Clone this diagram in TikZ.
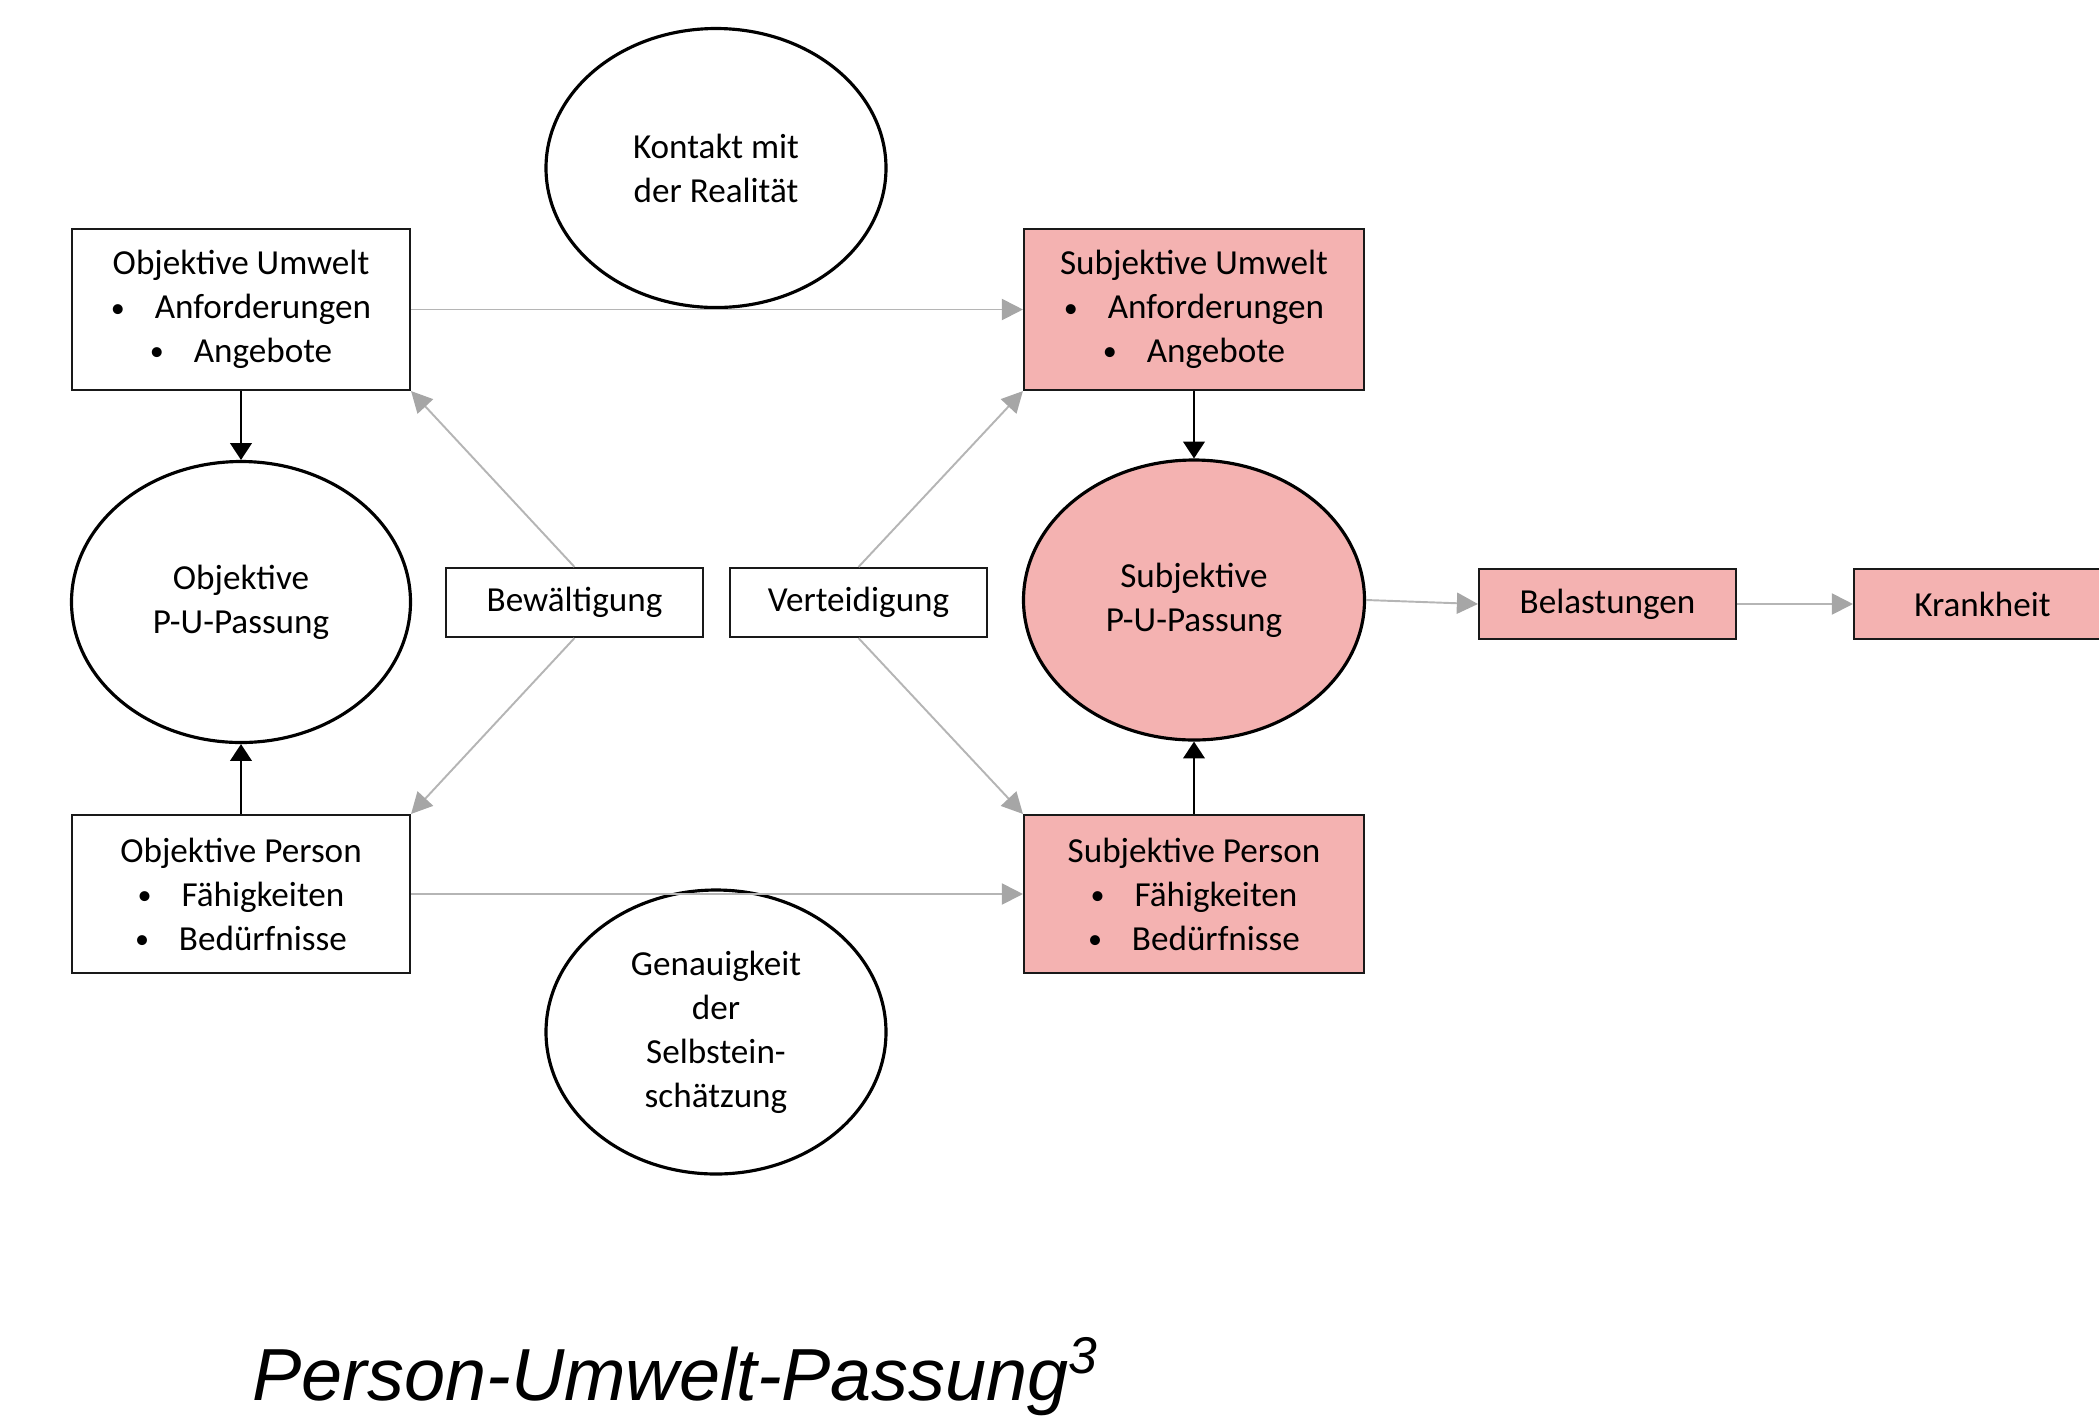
\documentclass[tikz,border=0pt]{standalone}
\usepackage{fontspec}
\usepackage{graphicx}
\setmainfont{Carlito}
\newfontfamily\titlefont{Liberation Sans}
\usetikzlibrary{arrows.meta,shapes.geometric}
\definecolor{pinkfill}{HTML}{F4B2B1}
\definecolor{linegray}{HTML}{B5B5B5}
\definecolor{tipgray}{HTML}{A6A6A6}
\tikzset{
  box/.style={draw=black!90, line width=0.6pt, inner sep=0pt, align=center,
    font=\fontsize{10}{12.5}\selectfont},
  ell/.style={ellipse, draw=black, line width=0.9pt, inner sep=0pt, align=center,
    font=\fontsize{10}{12.5}\selectfont},
  pinkbox/.style={box, fill=pinkfill},
  grayarrow/.style={draw=linegray, line width=0.55pt,
    -{Triangle[length=6pt,width=6pt,color=tipgray]}},
  blackarrow/.style={draw=black, line width=0.45pt,
    -{Triangle[length=4.8pt,width=6.2pt]}},
}
\newcommand{\bul}{\makebox[1.25em][l]{\raisebox{0.1ex}{\scalebox{0.8}{•}}}}
\begin{document}
\begin{tikzpicture}[x=0.1mm,y=-0.1mm]
\useasboundingbox (0,0) rectangle (2099,1421);
\begin{scope}
\clip (0,0) rectangle (2099,1421);
% boxes
\node[box, minimum width=3.38cm, minimum height=1.61cm] (ou) at (241,309.5)
  {Objektive Umwelt\\ \bul Anforderungen\\ \bul Angebote};
\node[pinkbox, minimum width=3.40cm, minimum height=1.61cm] (su) at (1194,309.5)
  {Subjektive Umwelt\\ \bul Anforderungen\\ \bul Angebote};
\node[box, minimum width=3.38cm, minimum height=1.58cm] (op) at (241,894)
  {Objektive Person\\ \bul Fähigkeiten\\ \bul Bedürfnisse};
\node[pinkbox, minimum width=3.40cm, minimum height=1.58cm] (sp) at (1194,894)
  {Subjektive Person\\ \bul Fähigkeiten\\ \bul Bedürfnisse};
\node[box, minimum width=2.57cm, minimum height=0.69cm] (bew) at (574.5,602.5) {Bewältigung};
\node[box, minimum width=2.57cm, minimum height=0.69cm] (ver) at (858.5,602.5) {Verteidigung};
\node[pinkbox, minimum width=2.57cm, minimum height=0.70cm] (bel) at (1607.5,604) {Belastungen};
\node[pinkbox, minimum width=2.57cm, minimum height=0.70cm] (kra) at (1982.5,604) {Krankheit};
% ellipses
\node[ell, minimum width=3.40cm, minimum height=2.79cm] (kon) at (716,168)
  {Kontakt mit\\der Realität};
\node[ell, minimum width=3.39cm, minimum height=2.81cm] (opu) at (241,602)
  {Objektive\\P-U-Passung};
\node[ell, fill=pinkfill, minimum width=3.41cm, minimum height=2.80cm] (spu) at (1194,600)
  {Subjektive\\P-U-Passung};
\node[ell, minimum width=3.40cm, minimum height=2.84cm] (gen) at (716,1032)
  {Genauigkeit\\der\\Selbstein-\\schätzung};
% connectors
\draw[grayarrow] (ou.east) -- (su.west);
\draw[grayarrow] (op.east) -- (sp.west);
\draw[grayarrow] (bew.north) -- (ou.south east);
\draw[grayarrow] (bew.south) -- (op.north east);
\draw[grayarrow] (ver.north) -- (su.south west);
\draw[grayarrow] (ver.south) -- (sp.north west);
\draw[grayarrow] (spu.east) -- (bel.west);
\draw[grayarrow] (bel.east) -- (kra.west);
\draw[blackarrow] (ou.south) -- (opu.north);
\draw[blackarrow] (op.north) -- (opu.south);
\draw[blackarrow] (su.south) -- (spu.north);
\draw[blackarrow] (sp.north) -- (spu.south);
% title
\node[anchor=base west, inner sep=0pt, font=\titlefont\itshape\fontsize{21}{25}\selectfont] (title) at (252,1400)
  {Person-Umwelt-Passung\textsuperscript{3}};
\end{scope}
\end{tikzpicture}
\end{document}
